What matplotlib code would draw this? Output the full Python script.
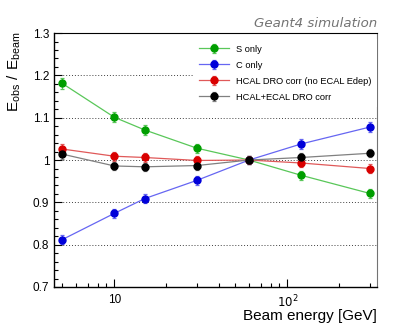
import numpy as np
import matplotlib
matplotlib.use("Agg")
import matplotlib.pyplot as plt
from matplotlib.ticker import MultipleLocator, FixedLocator, FuncFormatter, LogLocator, NullFormatter

plt.rcParams['font.family'] = ['Liberation Sans', 'DejaVu Sans']

# beam energies [GeV]
energy = [5, 10, 15, 30, 60, 120, 300]

# E_obs / E_beam for each method
s_only = [1.181, 1.101, 1.071, 1.028, 1.000, 0.964, 0.921]
c_only = [0.812, 0.874, 0.909, 0.952, 1.000, 1.038, 1.078]
hcal_dro = [1.026, 1.009, 1.006, 0.999, 1.000, 0.993, 0.980]
hcal_ecal_dro = [1.014, 0.986, 0.984, 0.987, 1.000, 1.006, 1.016]

s_err = [0.013, 0.012, 0.011, 0.011, 0.010, 0.010, 0.010]
c_err = [0.011, 0.011, 0.011, 0.011, 0.010, 0.011, 0.011]
hd_err = [0.011, 0.011, 0.011, 0.010, 0.010, 0.010, 0.010]
hed_err = [0.011, 0.010, 0.010, 0.010, 0.010, 0.010, 0.010]

labels = ["S only", "C only", "HCAL DRO corr (no ECAL Edep)", "HCAL+ECAL DRO corr"]

fig = plt.figure(figsize=(4.19, 3.31), dpi=100)
ax = fig.add_axes([0.129, 0.133, 0.771, 0.767])

series = [
    (s_only, s_err, (0.0, 0.62, 0.0), (0.35, 0.78, 0.35)),
    (c_only, c_err, (0.0, 0.0, 0.85), (0.4, 0.4, 0.95)),
    (hcal_dro, hd_err, (0.85, 0.0, 0.0), (0.88, 0.35, 0.35)),
    (hcal_ecal_dro, hed_err, (0.0, 0.0, 0.0), (0.5, 0.5, 0.5)),
]
for (y, e, dark, light), lab in zip(series, labels):
    ax.errorbar(energy, y, yerr=e, fmt='-o', color=light, lw=0.9,
                mfc=dark, mec=dark, ms=5, ecolor=light, elinewidth=0.9,
                capsize=1.5, capthick=0.9, label=lab, zorder=3)

ax.set_xscale('log')
ax.set_xlim(4.48, 330)
ax.set_ylim(0.7, 1.3)

# y grid (dotted)
for g in [0.8, 0.9, 1.0, 1.1, 1.2]:
    ax.axhline(g, color='0.25', lw=0.7, ls=(0, (1, 2)), zorder=1)

ax.yaxis.set_major_locator(MultipleLocator(0.1))
ax.yaxis.set_minor_locator(MultipleLocator(0.02))
ax.yaxis.set_major_formatter(FuncFormatter(lambda v, p: "%g" % round(v, 2)))
ax.xaxis.set_major_locator(FixedLocator([10, 100]))
ax.xaxis.set_major_formatter(FuncFormatter(lambda v, p: "10" if v < 50 else r"$10^{2}$"))
ax.xaxis.set_minor_locator(LogLocator(base=10, subs=np.arange(2, 10)))
ax.xaxis.set_minor_formatter(NullFormatter())

ax.tick_params(which='both', direction='in', top=False, right=False, labelsize=8.5, colors='black')
ax.tick_params(which='major', length=6, width=0.8)
ax.tick_params(which='minor', length=3, width=0.8)
ax.tick_params(axis='x', pad=5)

for s in ['left', 'bottom']:
    ax.spines[s].set_linewidth(1.0)
ax.spines['top'].set_linewidth(0.8)
ax.spines['right'].set_color('0.45')
ax.spines['right'].set_linewidth(0.8)

ax.set_ylabel(r"$\mathregular{E_{obs}\ /\ E_{beam}}$", fontsize=11)
ax.yaxis.set_label_coords(-0.095, 0.846)
ax.set_xlabel("Beam energy [GeV]", fontsize=11, ha='right', x=1.0, labelpad=-1)

fig.text(0.900, 0.918, "Geant4 simulation", ha='right', va='baseline', fontsize=9.6,
         style='italic', color='0.45', family='DejaVu Sans')

leg = ax.legend(loc='upper left', bbox_to_anchor=(0.418, 0.995), fontsize=6.7,
                frameon=True, fancybox=False, framealpha=1, edgecolor='none',
                facecolor='white', handlelength=3.2, labelspacing=0.75,
                borderpad=0.6, handletextpad=0.7)
leg.set_zorder(5)

fig.savefig("out.png", dpi=100)
